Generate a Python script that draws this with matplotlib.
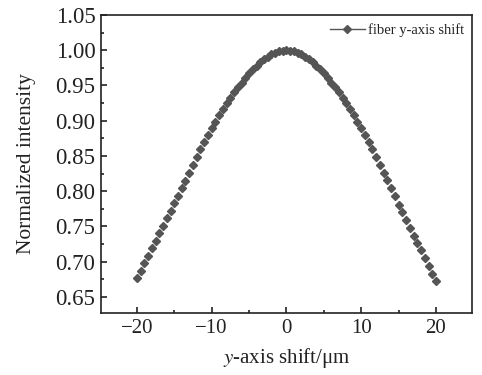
import numpy as np
import matplotlib
matplotlib.use("Agg")
import matplotlib.pyplot as plt
from matplotlib.ticker import MultipleLocator

# fiber shift (um) and normalized intensity
shift = np.arange(-20, 20.5, 0.5)

left_vals = [0.676, 0.687, 0.698, 0.708, 0.719, 0.729, 0.740, 0.751, 0.762,
             0.772, 0.783, 0.793, 0.804, 0.815, 0.826, 0.8376, 0.849, 0.8596,
             0.870, 0.8796, 0.889, 0.8987, 0.908, 0.9166, 0.925, 0.9326,
             0.940, 0.9472, 0.954, 0.9607, 0.967, 0.9727, 0.978, 0.9827,
             0.987, 0.9908, 0.994, 0.9966, 0.9985, 0.9996]
right_vals = [1.000, 0.9996, 0.9985, 0.9966, 0.994, 0.9908, 0.987, 0.9827,
              0.978, 0.9727, 0.967, 0.9607, 0.954, 0.9472, 0.940, 0.9326,
              0.925, 0.9166, 0.908, 0.8987, 0.889, 0.8796, 0.870, 0.8596,
              0.849, 0.8376, 0.826, 0.8151, 0.804, 0.7929, 0.781, 0.770,
              0.759, 0.748, 0.737, 0.726, 0.716, 0.705, 0.694, 0.683, 0.672]
intensity = left_vals + right_vals

plt.rcParams['font.family'] = ['Liberation Serif', 'DejaVu Serif']
plt.rcParams['mathtext.fontset'] = 'stix'

fig = plt.figure(figsize=(4.82, 3.75), dpi=100)
ax = fig.add_axes([0.2095, 0.1653, 0.7695, 0.7947])

gray = '#555555'
ax.plot(shift, intensity, linestyle='none', marker='D', markersize=4.4,
        color=gray, label='fiber y-axis shift')

ax.set_xlim(-24.8, 24.8)
ax.set_ylim(0.627, 1.05)
ax.set_xticks([-20, -10, 0, 10, 20])
ax.set_xticklabels(['\u221220', '\u221210', '0', '10', '20'])
ax.set_yticks(np.arange(0.65, 1.051, 0.05))
ax.yaxis.set_major_formatter(matplotlib.ticker.FormatStrFormatter('%.2f'))
ax.xaxis.set_minor_locator(MultipleLocator(5))
ax.yaxis.set_minor_locator(MultipleLocator(0.025))

ax.tick_params(which='both', direction='in', top=False, right=False,
               labelsize=15, colors='#222222', width=1.2)
ax.tick_params(axis='y', labelsize=16.5)
ax.tick_params(which='major', length=4, pad=4)
ax.tick_params(which='minor', length=2)
for s in ax.spines.values():
    s.set_linewidth(1.2)
    s.set_color('#222222')

ax.set_xlabel('$\\mathit{y}$-axis shift/\u03bcm', fontsize=15, color='#222222', labelpad=6)
ax.set_ylabel('Normalized intensity', fontsize=15.5, color='#222222', labelpad=14)

leg_handle, = ax.plot([], [], color=gray, marker='D', markersize=4.4, linewidth=1)
ax.legend([leg_handle], ['fiber y-axis shift'], loc='upper right', frameon=False,
          fontsize=10.5, handlelength=2.4, handletextpad=0.2, borderaxespad=0.15,
          labelcolor='#222222')

fig.savefig('out.png', dpi=100)
